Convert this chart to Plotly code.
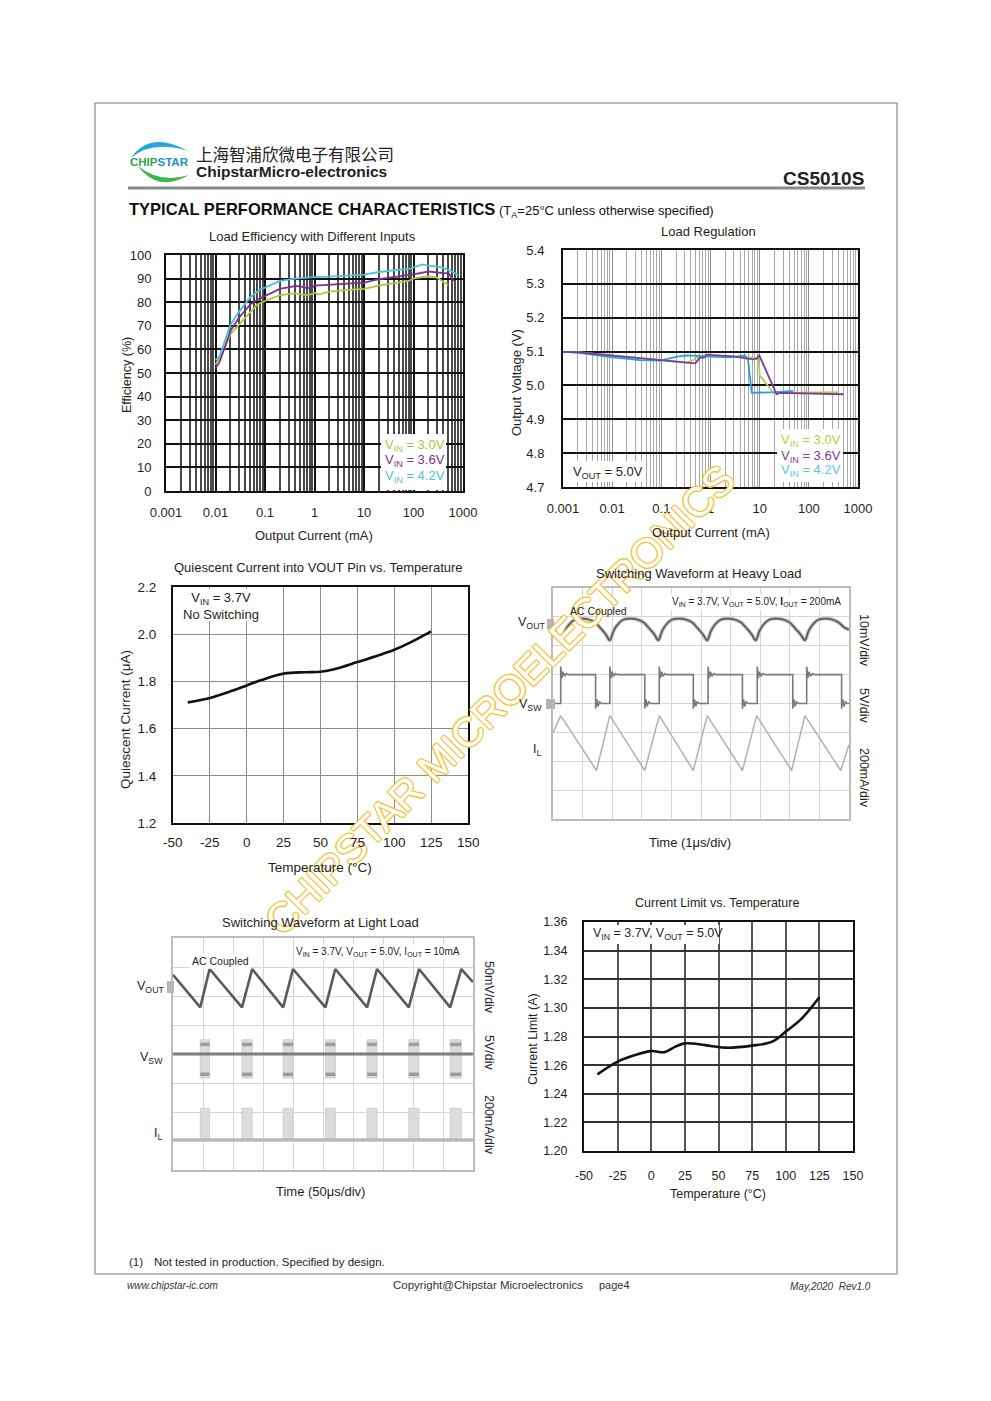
import plotly.graph_objects as go

W, H = 991, 1401
OFF = 8  # page body margin of the rendered html
FONT = "Liberation Sans, Arial, sans-serif"
CJK = "Noto Sans CJK SC"
TXT = "#231f20"


def px(x):
    return (x - OFF) / W


def py(y):
    return 1 - (y - OFF) / H


# ---------------- data ----------------
log_ticks = [0.001, 0.01, 0.1, 1, 10, 100, 1000]
log_tick_text = ["0.001", "0.01", "0.1", "1", "10", "100", "1000"]
log_minor = [m * 10.0 ** e for e in range(-3, 3) for m in range(2, 10)]
temp_ticks = [-50, -25, 0, 25, 50, 75, 100, 125, 150]
temp_tick_text = ["-50", "-25", "0", "25", "50", "75", "100", "125", "150"]

# Load efficiency (output current mA, efficiency %)
eff_i_30 = [0.01, 0.015, 0.02, 0.03, 0.05, 0.07, 0.1, 0.2, 0.4, 0.7, 0.9, 1.0, 1.2, 2.0, 5.0, 10, 20, 50, 80, 100, 200, 300, 500]
eff_30 = [53.5, 60, 66.5, 70.5, 76, 79, 80.5, 83, 83.7, 83, 83.5, 84, 83.2, 84.5, 85.2, 85.6, 87, 88.3, 89, 90.1, 91, 90.4, 87.3]
eff_i_36 = [0.01, 0.012, 0.02, 0.03, 0.05, 0.07, 0.1, 0.2, 0.4, 0.5, 0.7, 0.9, 1.0, 2.0, 5.0, 10, 20, 50, 100, 200, 300, 450, 500, 650]
eff_36 = [52, 54.5, 67.8, 73.5, 79, 81, 82.6, 85.6, 86.8, 86.8, 86, 86.2, 87, 87.3, 87.8, 88.3, 89.8, 90.8, 91.8, 93, 92.7, 92.2, 92.6, 89]
eff_i_42 = [0.01, 0.012, 0.02, 0.03, 0.05, 0.08, 0.1, 0.2, 0.4, 0.7, 1.0, 2.0, 5.0, 10, 20, 50, 90, 150, 200, 300, 400, 600, 800]
eff_42 = [55.5, 57, 70.3, 76, 82, 85.5, 86.2, 89, 90, 90.5, 90.6, 90.8, 91.2, 91.7, 92.8, 93.7, 94.3, 96, 95.4, 95.2, 94.5, 93, 91.5]

# Load regulation (output current mA, output voltage V)
lr_i_30 = [0.001, 0.002, 0.01, 0.1, 0.33, 0.45, 0.53, 1.0, 5.0, 8.7, 9.5, 10.0, 12, 19, 50, 400]
lr_30 = [5.099, 5.098, 5.089, 5.075, 5.067, 5.075, 5.083, 5.086, 5.085, 5.080, 5.088, 5.030, 5.015, 4.978, 4.979, 4.980]
lr_i_36 = [0.001, 0.0019, 0.0091, 0.095, 0.38, 0.49, 0.61, 0.74, 0.84, 2.9, 7.4, 8.7, 9.8, 22, 26, 500]
lr_36 = [5.099, 5.098, 5.089, 5.075, 5.065, 5.065, 5.082, 5.082, 5.091, 5.086, 5.077, 5.079, 5.089, 4.974, 4.978, 4.974]
lr_i_42 = [0.001, 0.002, 0.0091, 0.037, 0.095, 0.21, 0.33, 0.84, 2.5, 3.5, 5.0, 5.8, 6.9, 20, 48]
lr_42 = [5.099, 5.097, 5.084, 5.075, 5.073, 5.085, 5.089, 5.086, 5.083, 5.085, 5.089, 5.075, 4.978, 4.980, 4.984]

# Quiescent current vs temperature
qc_t = [-40, -25, -10, 0, 10, 25, 40, 50, 60, 75, 90, 100, 110, 125]
qc_i = [1.711, 1.730, 1.760, 1.783, 1.806, 1.833, 1.839, 1.841, 1.853, 1.882, 1.912, 1.934, 1.962, 2.012]

# Current limit vs temperature
cl_t = [-40, -25, -12, 0, 10, 18, 25, 40, 55, 75, 90, 100, 112, 125]
cl_a = [1.2535, 1.2624, 1.2670, 1.2698, 1.2691, 1.2729, 1.2752, 1.2740, 1.2722, 1.2736, 1.2764, 1.2834, 1.2927, 1.3074]

# Heavy-load scope screen (divisions: x 0-10, y 0-8)
hv_vout_x = [0.00, 0.28,
             0.40, 0.53, 0.73, 0.98, 1.23, 1.43, 1.63, 1.78, 1.92,
             2.04, 2.17, 2.37, 2.62, 2.87, 3.07, 3.27, 3.42, 3.56,
             3.68, 3.81, 4.01, 4.26, 4.51, 4.71, 4.91, 5.06, 5.21,
             5.33, 5.46, 5.66, 5.91, 6.16, 6.36, 6.56, 6.71, 6.85,
             6.97, 7.10, 7.30, 7.55, 7.80, 8.00, 8.20, 8.36, 8.51,
             8.63, 8.76, 8.96, 9.21, 9.46, 9.66, 9.86, 10.0]
hv_vout_y = [6.67, 6.19,
             6.50, 6.72, 6.90, 6.94, 6.90, 6.80, 6.58, 6.40, 6.19,
             6.50, 6.72, 6.90, 6.94, 6.90, 6.80, 6.58, 6.40, 6.19,
             6.50, 6.72, 6.90, 6.94, 6.90, 6.80, 6.58, 6.40, 6.19,
             6.50, 6.72, 6.90, 6.94, 6.90, 6.80, 6.58, 6.40, 6.19,
             6.50, 6.72, 6.90, 6.94, 6.90, 6.80, 6.58, 6.40, 6.19,
             6.50, 6.72, 6.90, 6.94, 6.90, 6.80, 6.62, 6.56]
hv_sw_rise = [0.26, 1.92, 3.59, 5.24, 6.90, 8.57]
hv_sw_fall = [1.44, 3.10, 4.74, 6.40, 8.10, 9.75]
hv_sw_low, hv_sw_high = 4.0, 5.0
hv_ring_up = [(0.00, 0.28), (0.04, -0.12), (0.08, 0.10), (0.13, -0.06), (0.19, 0.04), (0.26, 0.0)]
hv_ring_dn = [(0.00, -0.18), (0.04, 0.14), (0.08, -0.10), (0.13, 0.06), (0.20, 0.0)]
hv_il_x = [0.00, 0.26, 1.47, 1.92, 3.10, 3.59, 4.74, 5.21, 6.40, 6.88, 8.06, 8.51, 9.72, 10.0]
hv_il_y = [2.98, 3.58, 1.68, 3.58, 1.68, 3.58, 1.68, 3.58, 1.68, 3.58, 1.68, 3.58, 1.68, 2.57]

# Light-load scope screen
lt_vout_x = [0.00, 0.91, 1.22, 2.30, 2.64, 3.67, 4.00, 5.08, 5.41, 6.47, 6.80, 7.86, 8.20, 9.24, 9.61, 10.0]
lt_vout_y = [6.73, 5.61, 6.93, 5.61, 6.93, 5.61, 6.93, 5.61, 6.93, 5.61, 6.93, 5.61, 6.93, 5.61, 6.93, 6.48]
lt_burst_start = [0.91, 2.30, 3.67, 5.08, 6.47, 7.86, 9.24]
lt_burst_end = [1.22, 2.64, 4.00, 5.41, 6.80, 8.20, 9.61]
lt_sw_base = 4.0
lt_sw_lo, lt_sw_hi = 3.17, 4.49
lt_sw_bands = [3.30, 4.33]
lt_il_base, lt_il_top = 1.04, 2.13

# ---------------- figure ----------------
fig = go.Figure()

C30, C36, C42 = "#a9c83e", "#7a3096", "#4ec0d9"
LR30, LR36, LR42 = "#b3cf4a", "#7b3b9c", "#2b9fd8"

for xs, ys, c in [(eff_i_30, eff_30, C30), (eff_i_36, eff_36, C36), (eff_i_42, eff_42, C42)]:
    fig.add_trace(go.Scatter(x=xs, y=ys, mode="lines", line=dict(color=c, width=1.8),
                             xaxis="x", yaxis="y", showlegend=False, hoverinfo="skip"))

for xs, ys, c in [(lr_i_30, lr_30, LR30), (lr_i_42, lr_42, LR42), (lr_i_36, lr_36, LR36)]:
    fig.add_trace(go.Scatter(x=xs, y=ys, mode="lines", line=dict(color=c, width=1.8),
                             xaxis="x2", yaxis="y2", showlegend=False, hoverinfo="skip"))

fig.add_trace(go.Scatter(x=qc_t, y=qc_i, mode="lines", line=dict(color="#111", width=2.6, shape="spline"),
                         xaxis="x3", yaxis="y3", showlegend=False, hoverinfo="skip"))

# heavy scope traces
sx, sy = [0.0], [hv_sw_low]
for r, f in zip(hv_sw_rise, hv_sw_fall):
    sx.append(r); sy.append(hv_sw_low)
    for dt, dv in hv_ring_up:
        sx.append(r + dt); sy.append(hv_sw_high + dv)
    sx.append(f); sy.append(hv_sw_high)
    for dt, dv in hv_ring_dn:
        sx.append(f + dt); sy.append(hv_sw_low + dv)
sx.append(10.0); sy.append(hv_sw_low)

fig.add_trace(go.Scatter(x=hv_il_x, y=hv_il_y, mode="lines", line=dict(color="#b0b0b0", width=1.5),
                         xaxis="x4", yaxis="y4", showlegend=False, hoverinfo="skip"))
fig.add_trace(go.Scatter(x=sx, y=sy, mode="lines", line=dict(color="#7a7a7a", width=1.6),
                         xaxis="x4", yaxis="y4", showlegend=False, hoverinfo="skip"))
fig.add_trace(go.Scatter(x=hv_vout_x, y=hv_vout_y, mode="lines", line=dict(color="#c4c4c4", width=4, shape="spline"),
                         xaxis="x4", yaxis="y4", showlegend=False, hoverinfo="skip"))
fig.add_trace(go.Scatter(x=hv_vout_x, y=hv_vout_y, mode="lines", line=dict(color="#5c5c5c", width=1.8, shape="spline"),
                         xaxis="x4", yaxis="y4", showlegend=False, hoverinfo="skip"))

# light scope traces
bx, by_sw, by_il = [], [], []
for s, e in zip(lt_burst_start, lt_burst_end):
    bx += [s, e, e, s, s, None]
    by_sw += [lt_sw_lo, lt_sw_lo, lt_sw_hi, lt_sw_hi, lt_sw_lo, None]
    by_il += [lt_il_base, lt_il_base, lt_il_top, lt_il_top, lt_il_base, None]
fig.add_trace(go.Scatter(x=bx, y=by_sw, mode="lines", fill="toself", fillcolor="#dcdcdc",
                         line=dict(color="#d0d0d0", width=1), xaxis="x5", yaxis="y5",
                         showlegend=False, hoverinfo="skip"))
fig.add_trace(go.Scatter(x=bx, y=by_il, mode="lines", fill="toself", fillcolor="#dcdcdc",
                         line=dict(color="#d0d0d0", width=1), xaxis="x5", yaxis="y5",
                         showlegend=False, hoverinfo="skip"))
for band in lt_sw_bands:
    bdx, bdy = [], []
    for s, e in zip(lt_burst_start, lt_burst_end):
        bdx += [s, e, None]
        bdy += [band, band, None]
    fig.add_trace(go.Scatter(x=bdx, y=bdy, mode="lines", line=dict(color="#9c9c9c", width=3.5),
                             xaxis="x5", yaxis="y5", showlegend=False, hoverinfo="skip"))
fig.add_trace(go.Scatter(x=[0, 10], y=[lt_sw_base, lt_sw_base], mode="lines", line=dict(color="#7d7d7d", width=3),
                         xaxis="x5", yaxis="y5", showlegend=False, hoverinfo="skip"))
fig.add_trace(go.Scatter(x=[0, 10], y=[lt_il_base, lt_il_base], mode="lines", line=dict(color="#b8b8b8", width=3),
                         xaxis="x5", yaxis="y5", showlegend=False, hoverinfo="skip"))
fig.add_trace(go.Scatter(x=lt_vout_x, y=lt_vout_y, mode="lines", line=dict(color="#5a5a5a", width=2.6),
                         xaxis="x5", yaxis="y5", showlegend=False, hoverinfo="skip"))

fig.add_trace(go.Scatter(x=cl_t, y=cl_a, mode="lines", line=dict(color="#111", width=2.6, shape="spline"),
                         xaxis="x6", yaxis="y6", showlegend=False, hoverinfo="skip"))

# ---------------- axes ----------------
tickfont = dict(family=FONT, size=13, color=TXT)


def dom_x(a, b):
    return [px(a), px(b)]


def dom_y(top, bottom):
    return [py(bottom), py(top)]


layout_axes = {}
# 1 efficiency
layout_axes["xaxis"] = dict(domain=dom_x(166, 463), anchor="y", type="log", range=[-3, 3],
                            tickmode="array", tickvals=log_ticks, ticktext=log_tick_text,
                            showgrid=True, gridcolor="#111", gridwidth=1.8,
                            minor=dict(tickmode="array", tickvals=log_minor, showgrid=True,
                                       gridcolor="#4a4a4a", gridwidth=1.5, ticks=""),
                            showline=True, linecolor="#111", linewidth=2, mirror=True,
                            ticks="", tickfont=tickfont, ticklabelstandoff=8, zeroline=False)
layout_axes["yaxis"] = dict(domain=dom_y(255, 491), anchor="x", range=[0, 100], dtick=10,
                            showgrid=True, gridcolor="#111", gridwidth=1.6,
                            showline=True, linecolor="#111", linewidth=2, mirror=True,
                            ticks="", tickfont=tickfont, ticklabelstandoff=10, zeroline=False)
# 2 load regulation
layout_axes["xaxis2"] = dict(domain=dom_x(563, 858), anchor="y2", type="log", range=[-3, 3],
                             tickmode="array", tickvals=log_ticks, ticktext=log_tick_text,
                             showgrid=True, gridcolor="#8f8f8f", gridwidth=1.3,
                             minor=dict(tickmode="array", tickvals=log_minor, showgrid=True,
                                        gridcolor="#a8a8a8", gridwidth=1.2, ticks=""),
                             showline=True, linecolor="#111", linewidth=2, mirror=True,
                             ticks="", tickfont=tickfont, ticklabelstandoff=8, zeroline=False)
layout_axes["yaxis2"] = dict(domain=dom_y(250, 487), anchor="x2", range=[4.7, 5.4], dtick=0.1,
                             tickformat=".1f", showgrid=True, gridcolor="#111", gridwidth=1.5,
                             showline=True, linecolor="#111", linewidth=2, mirror=True,
                             ticks="", tickfont=tickfont, ticklabelstandoff=14, zeroline=False)
# 3 quiescent (x tick labels drawn as annotations below, above the watermark)
layout_axes["xaxis3"] = dict(domain=dom_x(173, 468), anchor="y3", range=[-50, 150],
                             tickmode="array", tickvals=temp_ticks, showticklabels=False,
                             showgrid=True, gridcolor="#8c8c8c", gridwidth=1.3,
                             showline=True, linecolor="#111", linewidth=2, mirror=True,
                             ticks="", zeroline=False)
layout_axes["yaxis3"] = dict(domain=dom_y(587, 823), anchor="x3", range=[1.2, 2.2], dtick=0.2,
                             tickformat=".1f", showgrid=True, gridcolor="#8c8c8c", gridwidth=1.3,
                             showline=True, linecolor="#111", linewidth=2, mirror=True,
                             ticks="", tickfont=dict(family=FONT, size=13.5, color=TXT),
                             ticklabelstandoff=12, zeroline=False)
# 4 heavy scope
scope_common = dict(showgrid=True, gridcolor="#d6d6d6", gridwidth=1, showline=True,
                    linecolor="#bcbcbc", linewidth=1.5, mirror=True, ticks="",
                    showticklabels=False, zeroline=False)
layout_axes["xaxis4"] = dict(domain=dom_x(553, 849), anchor="y4", range=[0, 10], dtick=1, **scope_common)
layout_axes["yaxis4"] = dict(domain=dom_y(588, 819), anchor="x4", range=[0, 8], dtick=1, **scope_common)
# 5 light scope
layout_axes["xaxis5"] = dict(domain=dom_x(173, 473), anchor="y5", range=[0, 10], dtick=1, **scope_common)
layout_axes["yaxis5"] = dict(domain=dom_y(938, 1170), anchor="x5", range=[0, 8], dtick=1, **scope_common)
# 6 current limit
layout_axes["xaxis6"] = dict(domain=dom_x(584, 853), anchor="y6", range=[-50, 150],
                             tickmode="array", tickvals=temp_ticks, ticktext=temp_tick_text,
                             showgrid=True, gridcolor="#555", gridwidth=1.5,
                             showline=True, linecolor="#111", linewidth=2, mirror=True,
                             ticks="", tickfont=dict(family=FONT, size=12.5, color=TXT),
                             ticklabelstandoff=12, zeroline=False)
layout_axes["yaxis6"] = dict(domain=dom_y(922, 1151), anchor="x6", range=[1.20, 1.36], dtick=0.02,
                             tickformat=".2f", showgrid=True, gridcolor="#333", gridwidth=1.5,
                             showline=True, linecolor="#111", linewidth=2, mirror=True,
                             ticks="", tickfont=dict(family=FONT, size=12.5, color=TXT),
                             ticklabelstandoff=12, zeroline=False)
for k in layout_axes:
    layout_axes[k]["automargin"] = False

# ---------------- annotations ----------------
anns = []

# watermark first so every other text is drawn on top of it (outlined: white glyph with orange rim)
WM = "#f6c034"
rim = ", ".join("%s %s 0 %s" % (dx, dy, WM) for dx, dy in
                [("1px", "0"), ("-1px", "0"), ("0", "1px"), ("0", "-1px"),
                 ("1px", "1px"), ("-1px", "-1px"), ("1px", "-1px"), ("-1px", "1px")])
anns.append(dict(text="CHIPSTAR MICROELECTRONICS", x=px(500), y=py(700), xref="paper", yref="paper",
                 showarrow=False, xanchor="center", yanchor="middle", textangle=-45,
                 font=dict(size=41, family=FONT, color="#ffffff", shadow=rim)))


def ann(text, x, y, size=13, xa="center", ya="middle", color=TXT, angle=0, bg=None, family=FONT, pad=1):
    d = dict(text=text, x=px(x), y=py(y), xref="paper", yref="paper", showarrow=False,
             xanchor=xa, yanchor=ya, font=dict(size=size, color=color, family=family),
             textangle=angle, borderpad=pad)
    if bg:
        d["bgcolor"] = bg
    anns.append(d)


# quiescent chart x tick labels, placed through the x3 axis scale
for tv, tt in zip(temp_ticks, temp_tick_text):
    anns.append(dict(text=tt, x=tv, y=py(842), xref="x3", yref="paper", showarrow=False,
                     xanchor="center", yanchor="middle",
                     font=dict(size=13.5, color=TXT, family=FONT)))

# header
ann("<b><span style='color:#2ea84a'>CHIP</span><span style='color:#1c93d2'>STAR</span></b>", 159, 162, size=11.5)
ann("上海智浦欣微电子有限公司", 194, 154, size=16.5, xa="left", family=CJK, color="#222")
ann("<b>ChipstarMicro-electronics</b>", 194, 172, size=15.5, xa="left", color="#222")
ann("<b>CS5010S</b>", 866, 178, size=19, xa="right", color="#222")
ann("<b>TYPICAL PERFORMANCE CHARACTERISTICS</b>", 127, 209, size=16.5, xa="left", color="#111")
ann("(T<sub>A</sub>=25°C unless otherwise specified)", 497, 211, size=13, xa="left", color="#111")

# chart titles
ann("Load Efficiency with Different Inputs", 312, 236, size=13)
ann("Load Regulation", 708, 232, size=13)
ann("Quiescent Current into VOUT Pin vs. Temperature", 318, 567, size=13)
ann("Switching Waveform at Heavy Load", 698, 573, size=13)
ann("Switching Waveform at Light Load", 320, 922, size=13)
ann("Current Limit vs. Temperature", 717, 903, size=12.5)

# axis titles
ann("Output Current (mA)", 314, 536, size=13)
ann("Efficiency (%)", 127, 375, size=12.5, angle=-90)
ann("Output Current (mA)", 711, 532, size=13)
ann("Output Voltage (V)", 516, 383, size=13, angle=-90)
ann("Quiescent Current (μA)", 125, 720, size=13.5, angle=-90)
ann("Temperature (°C)", 320, 867, size=13.5)
ann("Time (1μs/div)", 690, 842, size=13)
ann("Time (50μs/div)", 320, 1191, size=13)
ann("Current Limit (A)", 533, 1039, size=12.5, angle=-90)
ann("Temperature (°C)", 718, 1194, size=12.5)

# legends
ann("V<sub>IN</sub> = 3.0V", 383, 445, size=13, xa="left", color=C30)
ann("V<sub>IN</sub> = 3.6V", 383, 460, size=13, xa="left", color=C36)
ann("V<sub>IN</sub> = 4.2V", 383, 476, size=13, xa="left", color=C42)
ann("V<sub>IN</sub> = 3.0V", 779, 440, size=13, xa="left", color=LR30)
ann("V<sub>IN</sub> = 3.6V", 779, 456, size=13, xa="left", color=LR36)
ann("V<sub>IN</sub> = 4.2V", 779, 471, size=13, xa="left", color="#5cc6e4")
ann("V<sub>OUT</sub> = 5.0V", 571, 472, size=13, xa="left")
ann("V<sub>IN</sub> = 3.7V<br>No Switching", 181, 606, size=13, xa="left")
ann("V<sub>IN</sub> = 3.7V, V<sub>OUT</sub> = 5.0V", 591, 934, size=12.5, xa="left")

# scope labels
ann("V<sub>IN</sub> = 3.7V, V<sub>OUT</sub> = 5.0V, <b>I</b><sub>OUT</sub> = 200mA", 843, 602, size=10, xa="right", bg="white")
ann("AC Coupled", 568, 611, size=10.5, xa="left")
ann("V<sub>OUT</sub>", 547, 623, size=12.5, xa="right")
ann("V<sub>SW</sub>", 544, 705, size=12.5, xa="right")
ann("I<sub>L</sub>", 543, 750, size=12.5, xa="right")
ann("10mV/div", 864, 640, size=12.5, angle=90)
ann("5V/div", 864, 705, size=12.5, angle=90)
ann("200mA/div", 864, 778, size=12.5, angle=90)

ann("V<sub>IN</sub> = 3.7V, V<sub>OUT</sub> = 5.0V, I<sub>OUT</sub> = 10mA", 462, 952, size=10, xa="right", bg="white")
ann("AC Coupled", 220, 961, size=10.5, bg="white")
ann("V<sub>OUT</sub>", 166, 987, size=12.5, xa="right")
ann("V<sub>SW</sub>", 165, 1058, size=12.5, xa="right")
ann("I<sub>L</sub>", 164, 1134, size=12.5, xa="right")
ann("50mV/div", 489, 987, size=12.5, angle=90)
ann("5V/div", 489, 1052, size=12.5, angle=90)
ann("200mA/div", 489, 1125, size=12.5, angle=90)

# footer
ann("(1)", 127, 1262, size=11.5, xa="left", color="#222")
ann("Not tested in production. Specified by design.", 152, 1262, size=11.5, xa="left", color="#222")
ann("<i>www.chipstar-ic.com</i>", 125, 1285, size=10, xa="left", color="#333")
ann("Copyright@Chipstar Microelectronics", 391, 1285, size=11.5, xa="left", color="#333")
ann("page4", 597, 1285, size=11, xa="left", color="#333")
ann("<i>May,2020  Rev1.0</i>", 873, 1286, size=10, xa="right", color="#333")

# ---------------- shapes ----------------
shapes = []


def rect(x0, y0, x1, y1, fill=None, line=None, lw=1, layer="above"):
    shapes.append(dict(type="rect", xref="paper", yref="paper", x0=px(x0), x1=px(x1), y0=py(y1), y1=py(y0),
                       fillcolor=fill if fill else "rgba(0,0,0,0)",
                       line=dict(color=line if line else "rgba(0,0,0,0)", width=lw if line else 0),
                       layer=layer))


rect(95, 103, 897, 1274, line="#777", lw=1, layer="below")
shapes.append(dict(type="line", xref="paper", yref="paper", x0=px(128), x1=px(865), y0=py(188), y1=py(188),
                   line=dict(color="#8a8a8a", width=3)))


def P(x, y):
    return "%.5f,%.5f" % (px(x), py(y))


shapes.append(dict(type="path", xref="paper", yref="paper",
                   path="M %s Q %s %s Q %s %s Z" % (P(131, 158), P(150, 130), P(188, 151), P(152, 140), P(131, 158)),
                   fillcolor="#23a6dd", line=dict(width=0)))
shapes.append(dict(type="path", xref="paper", yref="paper",
                   path="M %s Q %s %s Q %s %s Z" % (P(138, 166), P(158, 193), P(189, 175), P(160, 184), P(138, 166)),
                   fillcolor="#3fb34f", line=dict(width=0)))

# white boxes behind legends / notes
rect(381, 434, 446, 490, fill="white")
rect(777, 429, 843, 482, fill="white")
rect(567, 461, 646, 482, fill="white")
rect(176, 589, 263, 621, fill="white")
rect(586, 925, 719, 944, fill="white")
# scope channel markers
rect(547, 619, 554, 629, fill="#b5b5b5")
rect(546, 699, 555, 709, fill="#b5b5b5")
rect(167, 981, 174, 993, fill="#b5b5b5")

fig.update_layout(
    width=W, height=H, margin=dict(l=0, r=0, t=0, b=0, pad=0, autoexpand=False),
    paper_bgcolor="white", plot_bgcolor="white",
    showlegend=False, annotations=anns, shapes=shapes,
    font=dict(family=FONT, color=TXT),
    **layout_axes,
)

fig.write_html("out.html")
